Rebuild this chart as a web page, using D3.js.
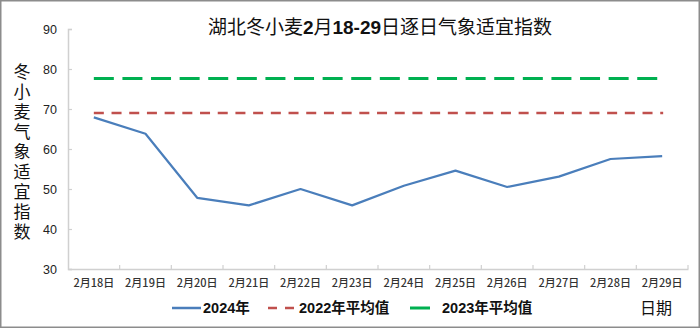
<!DOCTYPE html>
<html>
<head>
<meta charset="utf-8">
<script src="https://cdn.jsdelivr.net/npm/d3@7/dist/d3.min.js"></script>
<style>
  html, body { margin: 0; padding: 0; background: #fff; }
  svg { display: block; }
</style>
</head>
<body>
<svg id="chart" width="700" height="329"></svg>
<script>
// Daily dates (Feb 18–29)
const dates = ["2月18日","2月19日","2月20日","2月21日","2月22日","2月23日",
               "2月24日","2月25日","2月26日","2月27日","2月28日","2月29日"];
// 2024 daily suitability index
const values2024 = [67.9, 63.8, 47.8, 45.9, 50.0, 45.9, 50.8, 54.6, 50.5, 53.1, 57.5, 58.2];
// Multi-year averages
const avg2022 = 69.0;
const avg2023 = 77.6;
const yTicks = [30, 40, 50, 60, 70, 80, 90];

const titleParts = [
  {t: "湖北冬小麦", num: false}, {t: "2", num: true}, {t: "月", num: false},
  {t: "18-29", num: true}, {t: "日逐日气象适宜指数", num: false}
];
const yLabel = "冬小麦气象适宜指数";

const cjk = "'Noto Sans CJK SC', sans-serif";
const latin = "'Liberation Sans', Arial, sans-serif";

const svg = d3.select("#chart");
const W = 700, H = 329;

// outer frame
svg.append("rect").attr("x", 0.75).attr("y", 0.75)
  .attr("width", W - 1.5).attr("height", H - 2.5)
  .attr("fill", "#fff").attr("stroke", "#8c8c8c").attr("stroke-width", 1.5);

const x = d3.scaleBand().domain(dates).range([68, 688]).padding(0);
const y = d3.scaleLinear().domain([30, 90]).range([269, 29]);
const cx = d => x(d) + x.bandwidth() / 2;

const axisColor = "#d0d0d0";

// y axis
const yAxis = svg.append("g").attr("transform", "translate(68,0)")
  .call(d3.axisLeft(y).tickValues(yTicks).tickSize(-4).tickPadding(11));
yAxis.select(".domain").attr("stroke", axisColor).attr("stroke-width", 1.5);
yAxis.selectAll(".tick line").attr("stroke", axisColor).attr("stroke-width", 1.2);
yAxis.selectAll(".tick text").attr("font-family", latin).attr("font-size", 12.5)
  .attr("fill", "#222");

// x axis: labels under category centers, ticks on category boundaries
const xAxis = svg.append("g").attr("transform", "translate(0,269)")
  .call(d3.axisBottom(x).tickSize(0).tickPadding(10));
xAxis.select(".domain").attr("stroke", axisColor).attr("stroke-width", 1.5);
xAxis.selectAll(".tick text").attr("font-family", cjk).attr("font-size", 11)
  .attr("fill", "#333").attr("font-weight", 500);
const bounds = dates.map(d => x(d)).slice(1).concat([x.range()[1]]);
svg.append("g").selectAll("line").data(bounds).join("line")
  .attr("x1", d => d).attr("x2", d => d).attr("y1", 269).attr("y2", 265)
  .attr("stroke", axisColor).attr("stroke-width", 1.2);

// average reference lines
const x0 = cx(dates[0]), x1 = cx(dates[dates.length - 1]);
svg.append("line").attr("x1", x0).attr("x2", x1)
  .attr("y1", y(avg2023)).attr("y2", y(avg2023))
  .attr("stroke", "#00B050").attr("stroke-width", 3).attr("stroke-dasharray", "20 8.6");
svg.append("line").attr("x1", x0).attr("x2", x1 + 1)
  .attr("y1", y(avg2022)).attr("y2", y(avg2022))
  .attr("stroke", "#C0504D").attr("stroke-width", 2.6).attr("stroke-dasharray", "10 7.7");

// 2024 series
const line = d3.line().x((d, i) => cx(dates[i])).y(d => y(d));
svg.append("path").datum(values2024).attr("d", line)
  .attr("fill", "none").attr("stroke", "#4A7EBB").attr("stroke-width", 2.2)
  .attr("stroke-linejoin", "round");

// title
const title = svg.append("text").attr("x", 380).attr("y", 34)
  .attr("text-anchor", "middle").attr("font-size", 19).attr("fill", "#111");
titleParts.forEach(p => {
  title.append("tspan").text(p.t)
    .attr("font-family", p.num ? latin : cjk)
    .attr("font-weight", p.num ? "bold" : "normal");
});

// vertical y-axis label, set as one column of text
svg.append("text")
  .attr("x", 22).attr("y", 63)
  .style("writing-mode", "vertical-rl")
  .style("letter-spacing", "3px")
  .attr("font-family", cjk).attr("font-size", 17)
  .attr("fill", "#111").text(yLabel);

// legend
const legendY = 308;
const lg = svg.append("g");
lg.append("line").attr("x1", 172).attr("x2", 201).attr("y1", legendY).attr("y2", legendY)
  .attr("stroke", "#4A7EBB").attr("stroke-width", 2.5);
lg.append("line").attr("x1", 268).attr("x2", 298).attr("y1", legendY).attr("y2", legendY)
  .attr("stroke", "#C0504D").attr("stroke-width", 2.6).attr("stroke-dasharray", "9 8");
lg.append("line").attr("x1", 410).attr("x2", 430).attr("y1", legendY).attr("y2", legendY)
  .attr("stroke", "#00B050").attr("stroke-width", 3);

const legendItems = [
  {x: 203, year: "2024", rest: "年"},
  {x: 299, year: "2022", rest: "年平均值"},
  {x: 442, year: "2023", rest: "年平均值"}
];
legendItems.forEach(it => {
  const t = lg.append("text").attr("x", it.x).attr("y", legendY + 5)
    .attr("font-size", 14.5).attr("fill", "#111");
  t.append("tspan").text(it.year).attr("font-family", latin).attr("font-weight", "bold");
  t.append("tspan").text(it.rest).attr("font-family", cjk).attr("font-weight", "bold");
});

// x-axis title
svg.append("text").attr("x", 656).attr("y", legendY + 6).attr("text-anchor", "middle")
  .attr("font-family", cjk).attr("font-size", 16).attr("fill", "#111").text("日期");
</script>
</body>
</html>
